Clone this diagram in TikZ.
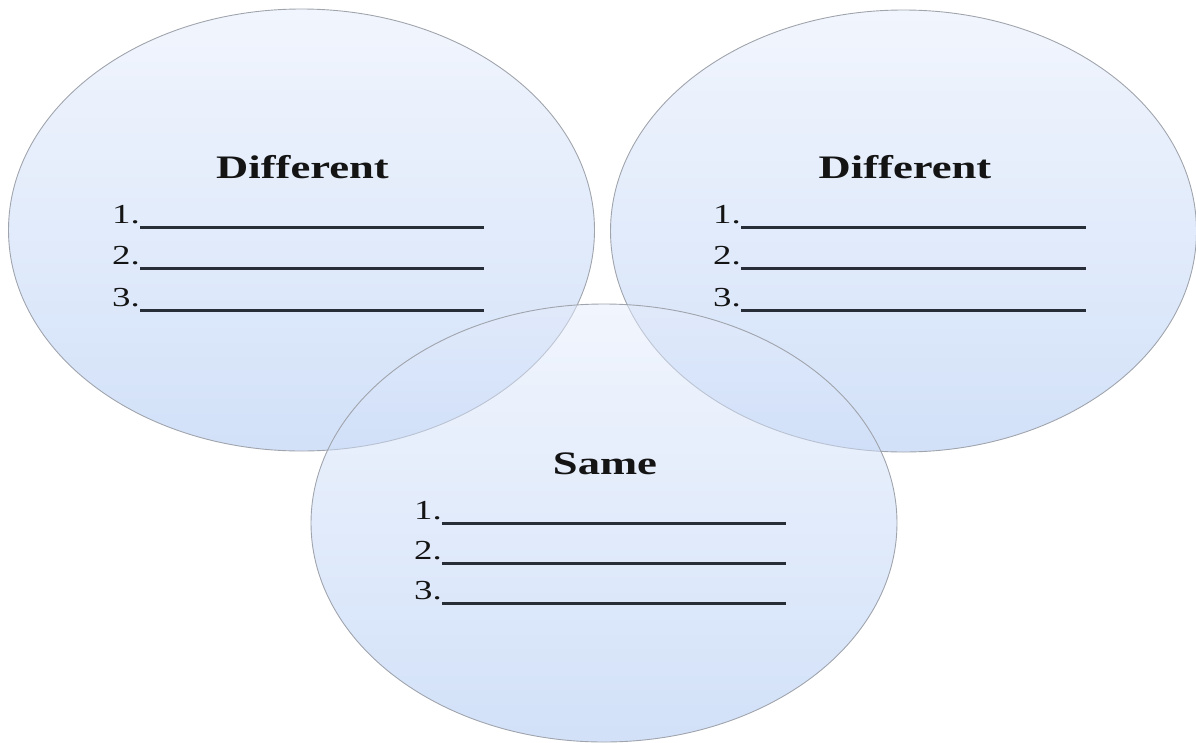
\documentclass[tikz,border=0pt]{standalone}
\usepackage{fontspec}
\setmainfont{Liberation Serif}
\usetikzlibrary{shapes.geometric}
\definecolor{vtop}{RGB}{228,236,252}
\definecolor{vbot}{RGB}{165,195,242}
\definecolor{vborder}{RGB}{160,164,172}
\definecolor{vtext}{RGB}{20,20,20}
\definecolor{vline}{RGB}{40,46,56}
\tikzset{
  venn/.style={ellipse, draw=vborder, line width=0.9pt, top color=vtop, bottom color=vbot,
    fill opacity=0.5, minimum width=586pt, minimum height=442pt, inner sep=0pt},
  head/.style={anchor=base, inner sep=0pt, text=vtext, font=\fontsize{32.8}{36}\selectfont\bfseries},
  num/.style={anchor=base west, inner sep=0pt, text=vtext, font=\fontsize{27.5}{30}\selectfont},
  uline/.style={draw=vline, line width=3pt},
}
\newcommand\vennlist[5]{% #1 prefix, #2 x of numbers, #3 first baseline y, #4 x end of lines, #5 spacing
  \foreach \i in {1,2,3}{
    \node[num] (#1n\i) at (#2, {#3+(\i-1)*#5}) {\scalebox{1.34}[1]{\i.}};
    \coordinate (#1e\i) at (#4, {#3+(\i-1)*#5+4});
    \draw[uline] (#1n\i.east |- #1e\i) -- (#1e\i);
  }}
\begin{document}
\begin{tikzpicture}[x=1pt,y=-1pt]
\useasboundingbox (0,0) rectangle (1196,742);
\node[venn] (L) at (301.5,230) {};
\node[venn] (R) at (903.5,231) {};
\node[venn, minimum height=438pt] (B) at (604,523) {};
\node[head] (hL) at (302.5,178) {\scalebox{1.36}[1]{Different}};
\node[head] (hR) at (905,178) {\scalebox{1.36}[1]{Different}};
\node[head] (hB) at (605,474) {\scalebox{1.36}[1]{Same}};
\vennlist{L}{112}{223}{484}{41.5}
\vennlist{R}{713}{223}{1086}{41.5}
\vennlist{B}{414}{519}{786}{40}
\end{tikzpicture}
\end{document}
